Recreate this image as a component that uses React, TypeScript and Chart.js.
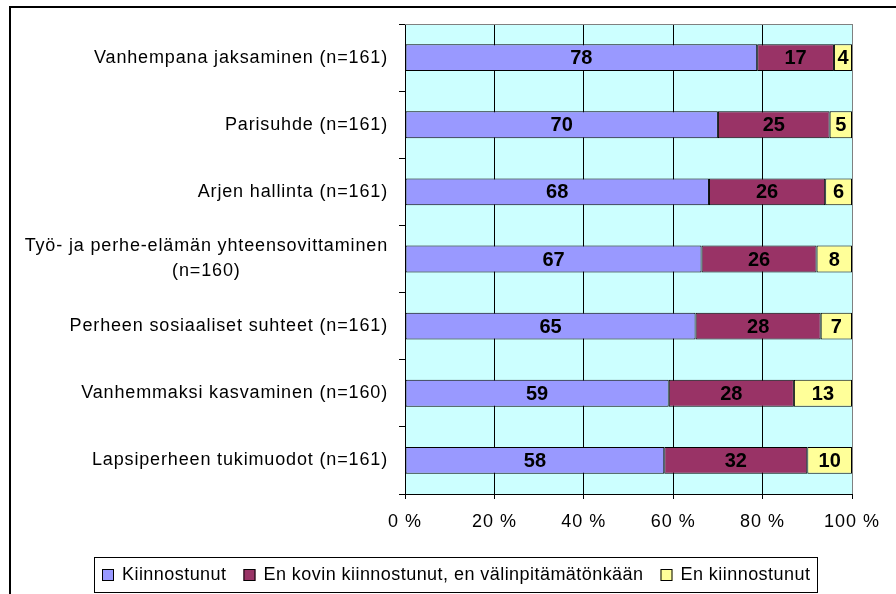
import React, { useEffect, useRef } from "react";
import { Chart, registerables } from "chart.js";
Chart.register(...registerables);

const categories: (string | string[])[] = [
  "Vanhempana jaksaminen (n=161)",
  "Parisuhde (n=161)",
  "Arjen hallinta (n=161)",
  ["Työ- ja perhe-elämän yhteensovittaminen", "(n=160)"],
  "Perheen sosiaaliset suhteet (n=161)",
  "Vanhemmaksi kasvaminen (n=160)",
  "Lapsiperheen tukimuodot (n=161)",
];
const seriesNames = [
  "Kiinnostunut",
  "En kovin kiinnostunut, en välinpitämätönkään",
  "En kiinnostunut",
];
const kiinnostunut = [78, 70, 68, 67, 65, 59, 58];
const enKovin = [17, 25, 26, 26, 28, 28, 32];
const enKiinnostunut = [4, 5, 6, 8, 7, 13, 10];
const xTicks = [0, 20, 40, 60, 80, 100];

const colors = ["#9999FF", "#993366", "#FFFF99"];
const FONT = "Arial, 'Liberation Sans', sans-serif";

export default function App() {
  const ref = useRef<HTMLCanvasElement | null>(null);

  useEffect(() => {
    const canvas = ref.current;
    if (!canvas) return;
    const raw = [kiinnostunut, enKovin, enKiinnostunut];
    const totals = categories.map((_, i) => raw.reduce((s, a) => s + a[i], 0));
    const norm = raw.map((arr) => arr.map((v, i) => (v / totals[i]) * 100));

    const plugin = {
      id: "custom",
      beforeDraw(chart: any) {
        const { ctx, chartArea: a } = chart;
        ctx.save();
        ctx.fillStyle = "#ffffff";
        ctx.fillRect(0, 0, chart.width, chart.height);
        ctx.fillStyle = "#CCFFFF";
        ctx.fillRect(a.left, a.top, a.right - a.left, a.bottom - a.top);
        ctx.restore();
        (ctx as any).letterSpacing = "1px";
      },
      afterDraw(chart: any) {
        const { ctx, chartArea: a } = chart;
        ctx.save();
        (ctx as any).letterSpacing = "0px";
        // plot top/right border
        ctx.strokeStyle = "#808080";
        ctx.lineWidth = 1;
        ctx.beginPath();
        ctx.moveTo(a.left, a.top + 0.5);
        ctx.lineTo(a.right + 0.5, a.top + 0.5);
        ctx.lineTo(a.right + 0.5, a.bottom);
        ctx.stroke();

        // outer frame
        ctx.strokeStyle = "#000";
        ctx.lineWidth = 2;
        ctx.strokeRect(10, 7, 1000, 1000);

        // y labels
        const yScale = chart.scales.y;
        ctx.fillStyle = "#000";
        ctx.font = `18px ${FONT}`;
        (ctx as any).letterSpacing = "0.85px";
        ctx.textBaseline = "middle";
        const rightX = 388;
        const lh = 25;
        categories.forEach((lab, i) => {
          const cy = yScale.getPixelForTick(i);
          const lines = Array.isArray(lab) ? lab : [lab];
          const w = Math.max(...lines.map((l) => ctx.measureText(l).width));
          ctx.textAlign = "left";
          lines.forEach((l, j) => {
            const lw = ctx.measureText(l).width;
            const y = cy + (j - (lines.length - 1) / 2) * lh;
            ctx.fillText(l, rightX - w + (w - lw) / 2, y);
          });
        });

        // value labels
        (ctx as any).letterSpacing = "0px";
        ctx.font = `bold 20px ${FONT}`;
        ctx.textAlign = "center";
        ctx.textBaseline = "middle";
        chart.data.datasets.forEach((ds: any, di: number) => {
          const meta = chart.getDatasetMeta(di);
          meta.data.forEach((el: any, i: number) => {
            const x = (el.x + el.base) / 2;
            ctx.fillText(String(raw[di][i]), x, el.y + 1);
          });
        });

        // legend
        ctx.font = `18px ${FONT}`;
        (ctx as any).letterSpacing = "0.45px";
        ctx.lineWidth = 1;
        ctx.strokeStyle = "#000";
        ctx.strokeRect(94.5, 557.5, 723, 35);
        let x = 102;
        const my = 569;
        ctx.textAlign = "left";
        ctx.textBaseline = "middle";
        seriesNames.forEach((name, i) => {
          ctx.fillStyle = colors[i];
          ctx.fillRect(x, my, 12, 12);
          ctx.strokeRect(x + 0.5, my + 0.5, 11, 11);
          ctx.fillStyle = "#000";
          ctx.fillText(name, x + 20, my + 6.5);
          x += 20 + ctx.measureText(name).width + 17;
        });
        ctx.restore();
      },
    };

    const chart = new Chart(canvas, {
      type: "bar",
      data: {
        labels: categories as any,
        datasets: seriesNames.map((name, i) => ({
          label: name,
          data: norm[i],
          backgroundColor: colors[i],
          borderColor: "#000",
          borderWidth: 1,
          borderSkipped: false,
          barPercentage: 0.4,
          categoryPercentage: 1,
        })),
      },
      options: {
        indexAxis: "y",
        animation: false,
        responsive: false,
        maintainAspectRatio: false,
        layout: { padding: { left: 0, right: 44, top: 24, bottom: 60 } },
        plugins: {
          legend: { display: false },
          tooltip: { enabled: false },
          title: { display: false },
        },
        scales: {
          x: {
            stacked: true,
            min: 0,
            max: 100,
            afterBuildTicks(scale: any) {
              scale.ticks = xTicks.map((v) => ({ value: v }));
            },
            afterFit(scale: any) {
              scale.height = 40;
            },
            ticks: {
              color: "#000",
              font: { size: 18, family: FONT },
              padding: 12,
              maxRotation: 0,
              callback: (v: any) => `${v} %`,
            },
            grid: {
              color: (c: any) => (c.tick && c.tick.value === 100 ? "#808080" : "#000"),
              lineWidth: 1,
              tickLength: 5,
              tickColor: "#000",
              drawOnChartArea: true,
            },
            border: { color: "#000", width: 1 },
          },
          y: {
            stacked: true,
            afterFit(scale: any) {
              scale.width = 405;
            },
            ticks: { display: false },
            grid: {
              offset: true,
              drawOnChartArea: false,
              tickLength: 6,
              color: "#000",
            },
            border: { color: "#000", width: 1 },
          },
        },
      },
      plugins: [plugin],
    });
    return () => chart.destroy();
  }, []);

  return (
    <div style={{ position: "fixed", left: 0, top: 0, width: 896, height: 594, overflow: "hidden", background: "#fff" }}>
      <canvas ref={ref} width={896} height={594} style={{ display: "block", width: 896, height: 594 }} />
    </div>
  );
}
